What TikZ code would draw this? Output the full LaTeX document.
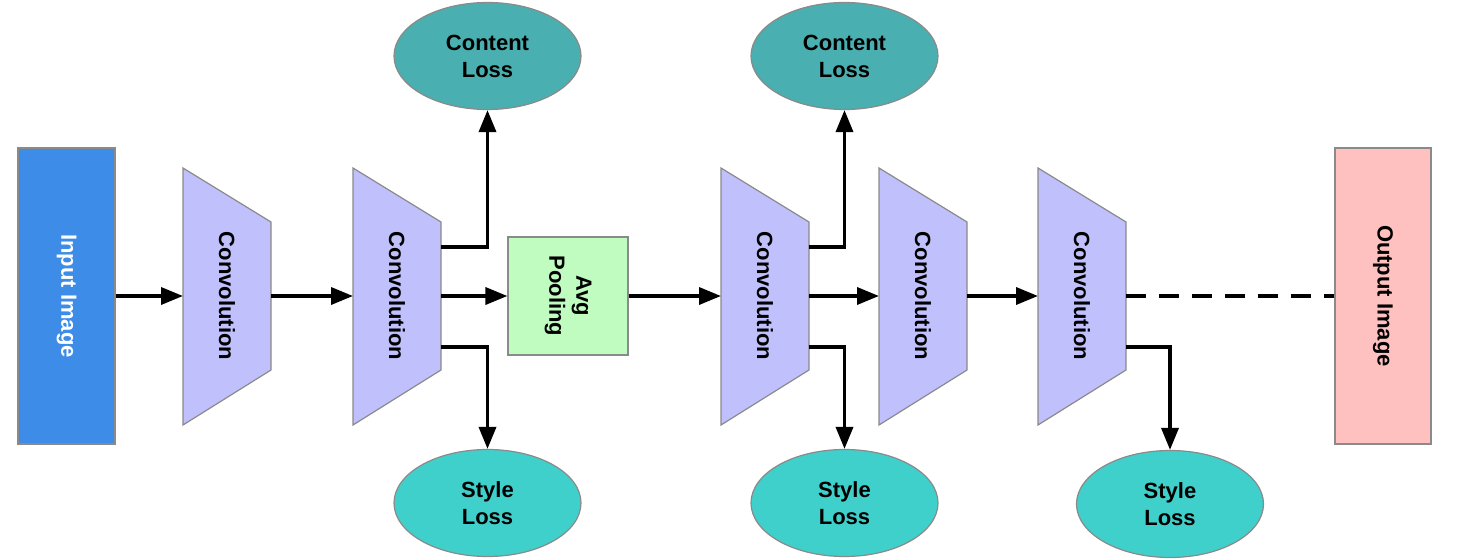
\documentclass[tikz,border=0pt]{standalone}
\usepackage{fontspec}
\setmainfont{Liberation Sans}
\usetikzlibrary{arrows.meta,shapes.geometric}
\definecolor{inblue}{HTML}{3C8CE8}
\definecolor{convfill}{HTML}{C0C0FC}
\definecolor{poolfill}{HTML}{C0FCC0}
\definecolor{outfill}{HTML}{FFC0C0}
\definecolor{contentfill}{HTML}{4AAFB0}
\definecolor{stylefill}{HTML}{40D0CC}
\definecolor{bordergray}{HTML}{8A8A8A}
\tikzset{
  box/.style={draw=bordergray, line width=1.2pt},
  lbl/.style={font=\fontsize{22}{27}\selectfont\bfseries, align=center, inner sep=0pt},
  rectbox/.style={rectangle, box, lbl, rotate=-90},
  conn/.style={line width=3.5pt, -{Triangle[length=22pt,width=17pt]}},
  plainline/.style={line width=3.5pt},
  dashline/.style={line width=3.5pt, dash pattern=on 20pt off 13pt},
  loss/.style={ellipse, box, lbl, minimum width=187pt, minimum height=107pt},
  contentloss/.style={loss, fill=contentfill},
  styleloss/.style={loss, fill=stylefill},
}
\newcommand{\convnode}[2]{%
  \draw[box, fill=convfill] (#2,168) -- ({#2+88},222) -- ({#2+88},370) -- (#2,425) -- cycle;
  \node[lbl, rotate=-90] (#1) at ({#2+44},296) {Convolution};
  \coordinate (#1-w) at (#2,296);
  \coordinate (#1-e) at ({#2+88},296);
  \coordinate (#1-ue) at ({#2+88},247);
  \coordinate (#1-le) at ({#2+88},347);
}
\begin{document}
\begin{tikzpicture}[x=1pt,y=-1pt]
\useasboundingbox (0,0) rectangle (1462,559);
% images
\node[rectbox, fill=inblue, text=white, minimum width=296pt, minimum height=97pt] (inp) at (66.5,296) {Input Image};
\node[rectbox, fill=outfill, minimum width=296pt, minimum height=96pt] (out) at (1383,296) {Output Image};
\node[rectbox, fill=poolfill, minimum width=118pt, minimum height=120pt] (pool) at (568,296) {Avg\\Pooling};
% convolutions
\convnode{c1}{183}
\convnode{c2}{353}
\convnode{c3}{721}
\convnode{c4}{879}
\convnode{c5}{1038}
% losses
\node[contentloss] (cl1) at (487.5,56) {Content\\Loss};
\node[contentloss] (cl2) at (844.5,56) {Content\\Loss};
\node[styleloss] (sl1) at (487.5,503) {Style\\Loss};
\node[styleloss] (sl2) at (844.5,503) {Style\\Loss};
\node[styleloss] (sl3) at (1170,504) {Style\\Loss};
% main flow
\draw[conn] (inp.north) -- (c1-w);
\draw[conn] (c1-e) -- (c2-w);
\draw[conn] (c2-e) -- (pool.south);
\draw[conn] (pool.north) -- (c3-w);
\draw[conn] (c3-e) -- (c4-w);
\draw[conn] (c4-e) -- (c5-w);
\draw[dashline] (c5-e) -- (out.south);
% branches
\draw[conn] (c2-ue) -| (cl1.south);
\draw[conn] (c2-le) -| (sl1.north);
\draw[conn] (c3-ue) -| (cl2.south);
\draw[conn] (c3-le) -| (sl2.north);
\draw[conn] (c5-le) -| (sl3.north);
\end{tikzpicture}
\end{document}
